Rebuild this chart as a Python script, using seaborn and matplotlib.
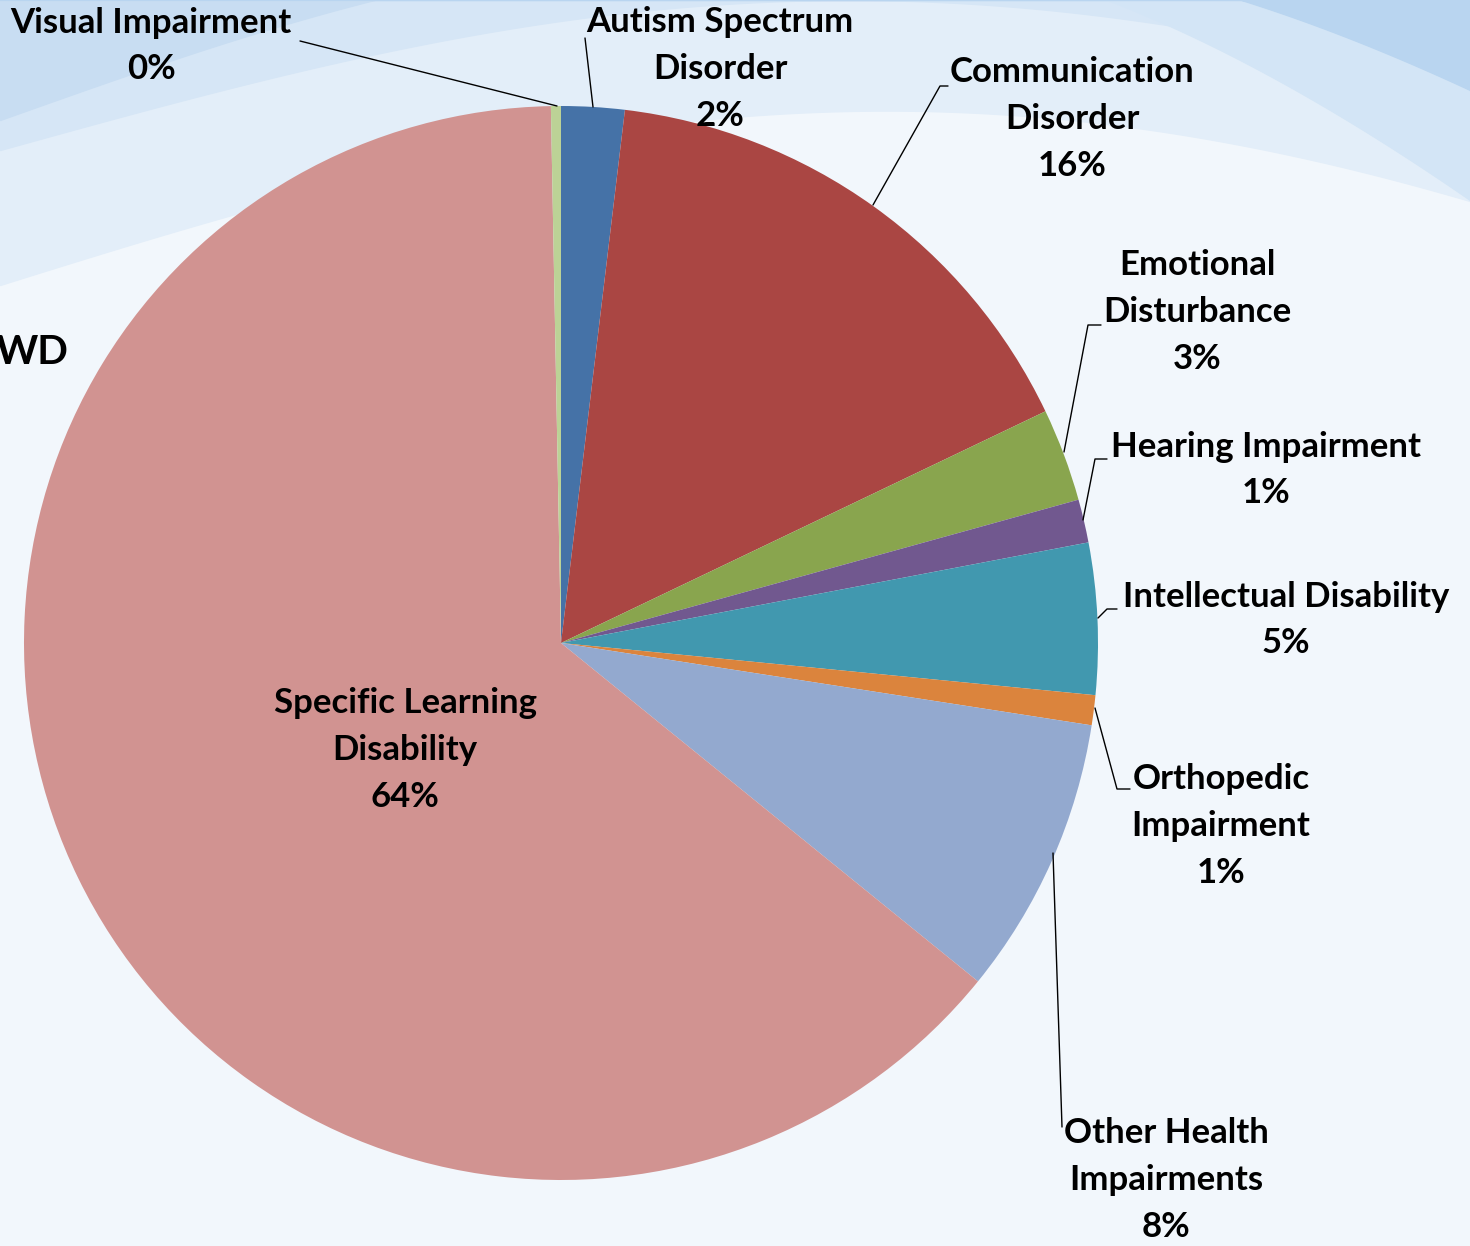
import numpy as np
import matplotlib
matplotlib.use("Agg")
import matplotlib.pyplot as plt
import seaborn as sns

# data (percent of students)
categories = ["Autism Spectrum\nDisorder", "Communication\nDisorder", "Emotional\nDisturbance",
              "Hearing Impairment", "Intellectual Disability", "Orthopedic\nImpairment",
              "Other Health\nImpairments", "Specific Learning\nDisability", "Visual Impairment"]
values = [1.9, 16.0, 2.8, 1.3, 4.55, 0.9, 8.4, 63.85, 0.3]
colors = ["#4572A7", "#AA4643", "#89A54E", "#71588F", "#4198AF",
          "#DB843D", "#93A9CF", "#D19391", "#BCD296"]

# label placement in pixels (center x, center y) and leader lines
label_pos = [(720, 69), (1072, 119), (1197, 312), (1266, 470), (1286, 620),
             (1221, 826), (1166, 1180), (405, 750), (151, 46)]
leaders = [[(585, 38), (593, 107)],
           [(873, 205), (940, 86), (948, 86)],
           [(1064, 452), (1088, 325), (1101, 325)],
           [(1083, 520), (1095, 459), (1107, 459)],
           [(1098, 618), (1107, 609), (1117, 609)],
           [(1095, 708), (1117, 789), (1130, 789)],
           [(1053, 853), (1062, 1127)],
           None,
           [(300, 41), (557, 106)]]

W, H = 1470, 1246
CX, CY, R = 561, 643, 537

sns.set_style("white")
plt.rcParams["font.family"] = ["Lato", "DejaVu Sans"]

fig = plt.figure(figsize=(W / 100, H / 100), dpi=100)

# background with soft waves
bg = fig.add_axes([0, 0, 1, 1], zorder=0)
bg.set_xlim(0, W)
bg.set_ylim(H, 0)
bg.axis("off")
bg.add_patch(plt.Rectangle((0, 0), W, H, color="#F2F7FC"))
xs = np.linspace(0, W, 300)
band1 = 285 - 190 * np.sin(np.pi * xs / 1900) + 40 * (xs / W) ** 2
band2 = 150 - 150 * np.sin(np.pi * xs / 1700)
band3 = 120 - 170 * np.sin(np.pi * xs / 1500)
right1 = -40 + 240 * ((xs - 950) / 520).clip(0) ** 1.5
right2 = -40 + 130 * ((xs - 1050) / 420).clip(0) ** 1.5
bg.fill_between(xs, 0, band1, color="#E3EEF9")
bg.fill_between(xs, 0, band2, color="#D6E6F6")
bg.fill_between(xs, 0, band3, color="#C8DDF2")
bg.fill_between(xs, 0, right1, color="#D3E5F6")
bg.fill_between(xs, 0, right2, color="#B9D5F0")

ax = fig.add_axes([0, 0, 1, 1], zorder=1)
ax.patch.set_alpha(0)

ax.pie(values, colors=colors, startangle=90, counterclock=False, radius=1,
       wedgeprops=dict(linewidth=0))
ax.set_aspect("equal")
ax.set_xlim(-CX / R, (W - CX) / R)
ax.set_ylim(-(H - CY) / R, CY / R)
ax.axis("off")


def to_data(px, py):
    return (px - CX) / R, (CY - py) / R


for cat, v, (px, py), line in zip(categories, values, label_pos, leaders):
    x, y = to_data(px, py)
    ax.text(x, y, f"{cat}\n{v:.0f}%", ha="center", va="center", fontsize=25,
            fontweight="bold", linespacing=1.56, color="black")
    if line:
        lx, ly = zip(*[to_data(a, b) for a, b in line])
        ax.plot(lx, ly, color="black", lw=1)

# clipped title fragment at the left edge
x, y = to_data(-4, 353)
ax.text(x, y, "WD", ha="left", va="center", fontsize=29, fontweight="bold", color="black")

fig.savefig("out.png", dpi=100)
